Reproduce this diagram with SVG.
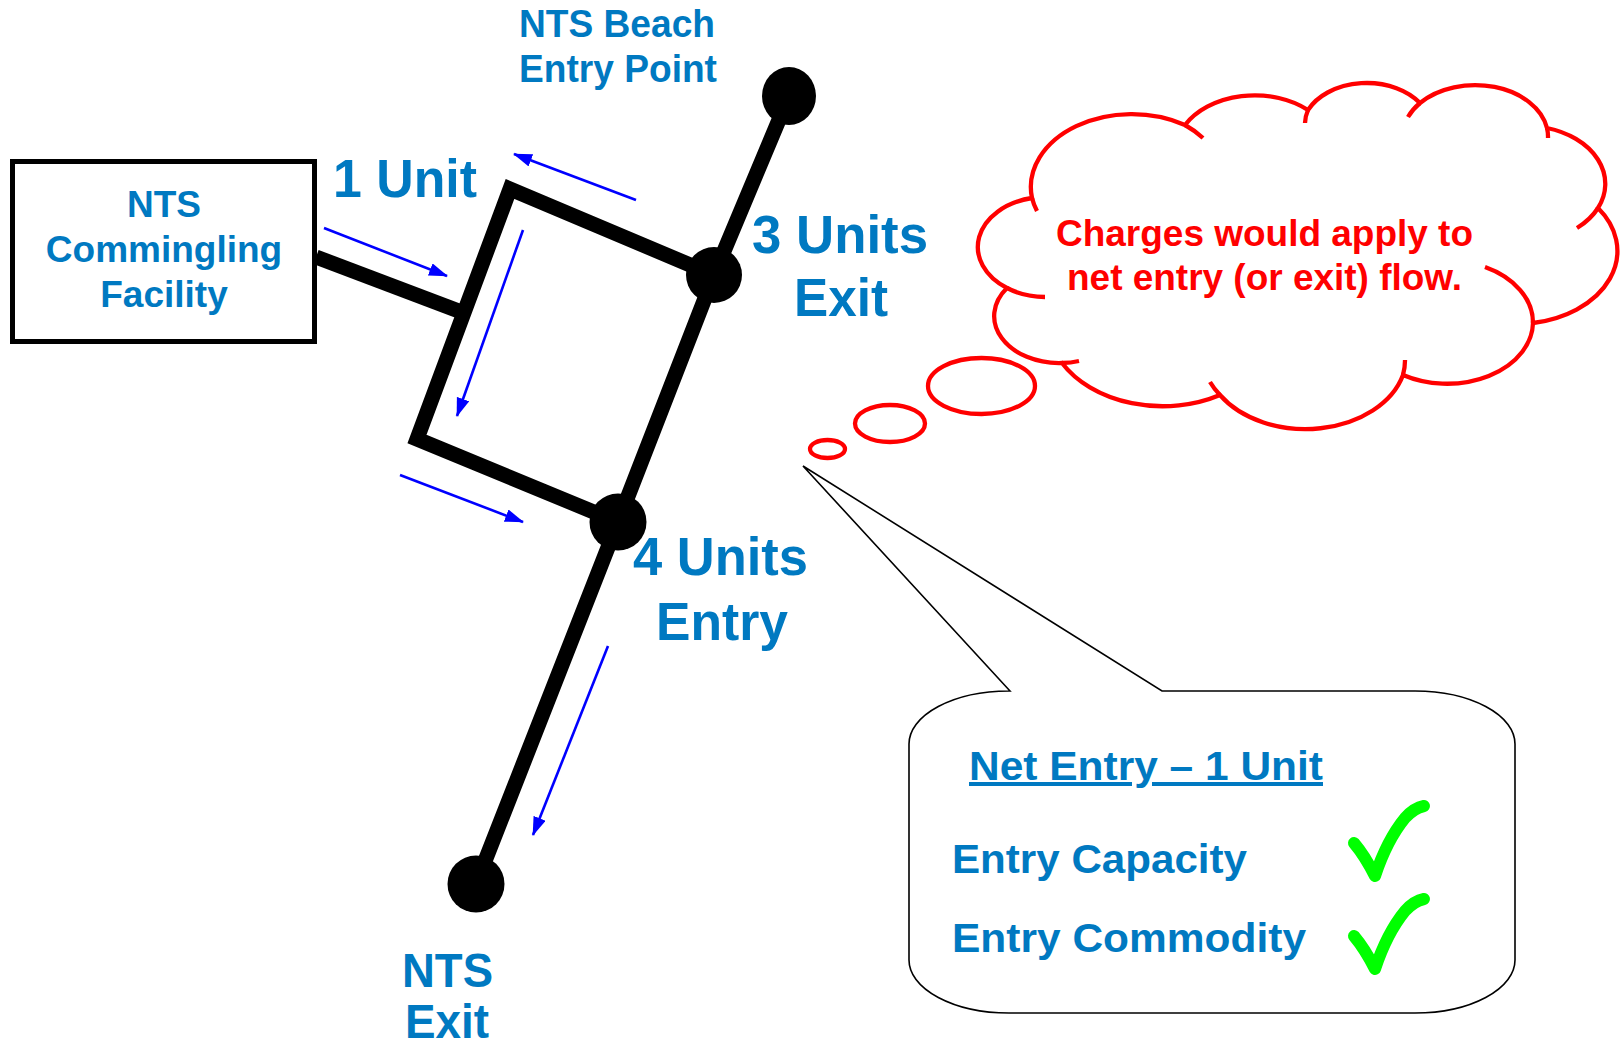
<svg xmlns="http://www.w3.org/2000/svg" xmlns:xlink="http://www.w3.org/1999/xlink" width="1623" height="1045" viewBox="0 0 1623 1045">
<style>
  .lbl { font-family: "Liberation Sans", Arial, sans-serif; font-weight: bold; fill: #0079C1; }
  .pipe { fill: none; stroke: #000; stroke-width: 15; stroke-linejoin: miter; stroke-miterlimit: 10; }
  .flow { fill: none; stroke: #0000FF; stroke-width: 2.6; marker-end: url(#ah); }
  .dot { fill: #000; }
  .red { fill: #fff; stroke: #FF0000; stroke-width: 4.3; }
  .redline { fill: none; stroke: #FF0000; stroke-width: 4.3; }
  .redtxt { font-family: "Liberation Sans", Arial, sans-serif; font-weight: bold; fill: #FF0000; font-size: 37px; }
  .tick { fill: none; stroke: #00FF00; stroke-width: 12; stroke-linecap: round; stroke-linejoin: round; }
</style>
<defs>
  <marker id="ah" markerUnits="userSpaceOnUse" markerWidth="20" markerHeight="14" refX="18" refY="6.5" orient="auto">
    <path d="M0,0 L19,6.5 L0,13 Z" fill="#0000FF"/>
  </marker>
  <path id="check" class="tick" d="M1354,843 Q1365,856 1375,876 Q1387,840 1405,818 Q1414,808 1424,806"/>
</defs>
<rect width="1623" height="1045" fill="#fff"/>

<g id="connectors">
  <path class="pipe" d="M789,96 L714,275 L618,522 L476,884"/>
  <path class="pipe" d="M714,275 L510,189 L417,439 L618,522"/>
  <path class="pipe" d="M316,257 L464,313"/>
  <path class="flow" d="M636,200 L514,154"/>
  <path class="flow" d="M324,228 L447,276"/>
  <path class="flow" d="M523,230 L457,416"/>
  <path class="flow" d="M400,475 L523,522"/>
  <path class="flow" d="M608,646 L533,835"/>
</g>

<g id="commingling-facility">
  <rect x="12.5" y="161.5" width="302" height="180" fill="#fff" stroke="#000" stroke-width="5"/>
  <text class="lbl" font-size="37" text-anchor="middle" x="164" y="217">NTS</text>
  <text class="lbl" font-size="37" text-anchor="middle" x="164" y="262">Commingling</text>
  <text class="lbl" font-size="37" text-anchor="middle" x="164" y="307">Facility</text>
</g>

<g id="beach-entry-node">
  <ellipse class="dot" cx="789" cy="96" rx="27" ry="29"/>
  <text class="lbl" font-size="38" x="519" y="37" textLength="196" lengthAdjust="spacingAndGlyphs">NTS Beach</text>
  <text class="lbl" font-size="38" x="519" y="82" textLength="198" lengthAdjust="spacingAndGlyphs">Entry Point</text>
</g>

<g id="exit-3-node">
  <circle class="dot" cx="714" cy="275" r="28"/>
  <text class="lbl" font-size="54" x="752" y="253" textLength="176" lengthAdjust="spacingAndGlyphs">3 Units</text>
  <text class="lbl" font-size="54" x="794" y="316" textLength="94" lengthAdjust="spacingAndGlyphs">Exit</text>
</g>

<g id="entry-4-node">
  <circle class="dot" cx="618" cy="522" r="28.5"/>
  <text class="lbl" font-size="54" x="633" y="575" textLength="175" lengthAdjust="spacingAndGlyphs">4 Units</text>
  <text class="lbl" font-size="54" x="656" y="640" textLength="132" lengthAdjust="spacingAndGlyphs">Entry</text>
</g>

<g id="nts-exit-node">
  <circle class="dot" cx="476" cy="884" r="28.5"/>
  <text class="lbl" font-size="49" x="402" y="987" textLength="91" lengthAdjust="spacingAndGlyphs">NTS</text>
  <text class="lbl" font-size="49" x="405" y="1038" textLength="84" lengthAdjust="spacingAndGlyphs">Exit</text>
</g>

<g id="label-1-unit">
  <text class="lbl" font-size="54" x="333" y="197" textLength="144" lengthAdjust="spacingAndGlyphs">1 Unit</text>
</g>

<g id="thought-cloud">
  <path class="red" d="M1032,198 A101,73 0 0 1 1185,125 A80,58 0 0 1 1308,110 A65,47 0 0 1 1420,103 A73,52 0 0 1 1547,128 A80,58 0 0 1 1598,208 A101,73 0 0 1 1533,323 A86,62 0 0 1 1403,375 A101,73 0 0 1 1220,395 A115,84 0 0 1 1062,363 A65,47 0 0 1 1007,288 A68,50 0 0 1 1032,198 Z"/>
  <path class="redline" d="M1037,211 A101,73 0 0 1 1032,198 M1185,125 A101,73 0 0 1 1203,138 M1305,123 A65,47 0 0 1 1308,110 M1408,117 A73,52 0 0 1 1420,103 M1547,128 A73,52 0 0 1 1548,138 M1598,208 A80,58 0 0 1 1577,228 M1485,267 A86,62 0 0 1 1533,323 M1405,360 A101,73 0 0 1 1403,375 M1220,395 A101,73 0 0 1 1210,382 M1079,361 A65,47 0 0 1 1062,363 M1045,297 A68,50 0 0 1 1007,288"/>
  <ellipse class="red" cx="981.5" cy="386" rx="53.5" ry="28"/>
  <ellipse class="red" cx="890" cy="423.5" rx="35" ry="18.5"/>
  <ellipse class="red" cx="827.5" cy="449" rx="17.5" ry="9"/>
  <text class="redtxt" x="1264.5" y="246" text-anchor="middle" textLength="417" lengthAdjust="spacingAndGlyphs">Charges would apply to</text>
  <text class="redtxt" x="1264.5" y="290" text-anchor="middle" textLength="395" lengthAdjust="spacingAndGlyphs">net entry (or exit) flow.</text>
</g>

<g id="net-entry-callout">
  <path d="M1010,691 L803,466 L1162,691 L1415,691 A100,53 0 0 1 1515,744 L1515,960 A100,53 0 0 1 1415,1013 L1009,1013 A100,53 0 0 1 909,960 L909,744 A100,53 0 0 1 1009,691 Z" fill="#fff" stroke="#000" stroke-width="1.6" stroke-linejoin="miter"/>
  <text class="lbl" font-size="40" x="969" y="780" textLength="354" lengthAdjust="spacingAndGlyphs" text-decoration="underline">Net Entry – 1 Unit</text>
  <text class="lbl" font-size="40" x="952" y="873" textLength="295" lengthAdjust="spacingAndGlyphs">Entry Capacity</text>
  <text class="lbl" font-size="40" x="952" y="952" textLength="354" lengthAdjust="spacingAndGlyphs">Entry Commodity</text>
  <use xlink:href="#check"/>
  <use xlink:href="#check" transform="translate(0,93)"/>
</g>
</svg>
